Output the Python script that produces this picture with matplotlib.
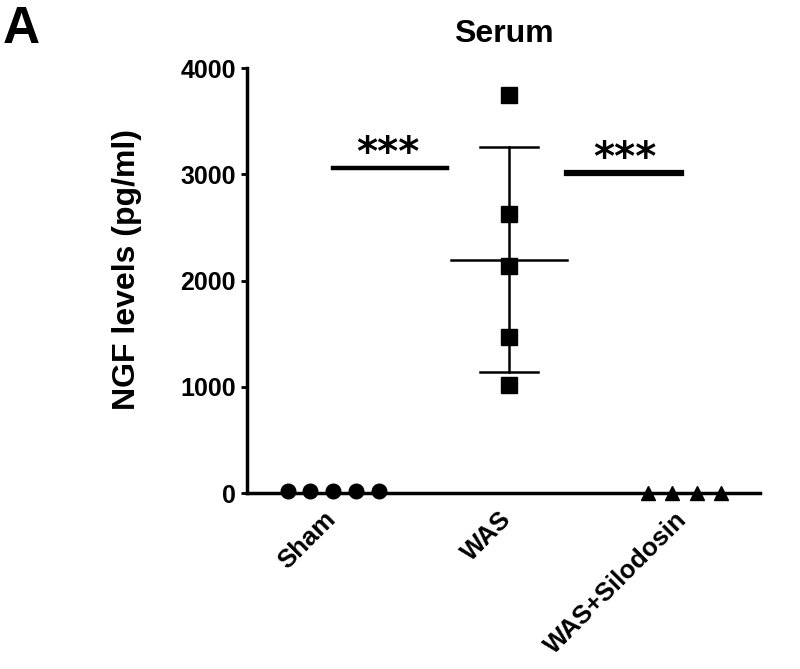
import numpy as np
import matplotlib
matplotlib.use("Agg")
import matplotlib.pyplot as plt
from matplotlib.transforms import ScaledTranslation

plt.rcParams['font.family'] = ['Liberation Sans', 'DejaVu Sans']
plt.rcParams['font.weight'] = 'bold'

categories = ["Sham", "WAS", "WAS+Silodosin"]
sham = [20, 20, 20, 20, 20]
was = [3746, 2626, 2136, 1468, 1016]
was_silodosin = [0, 0, 0, 0]
sig_labels = ["***", "***"]
sig_heights = [3058, 3012]
yticks = [0, 1000, 2000, 3000, 4000]

fig = plt.figure(figsize=(8, 6.69), dpi=100)
ax = fig.add_axes([0.309, 0.263, 0.641, 0.635])

def offsets(n, step=0.13):
    return (np.arange(n) - (n - 1) / 2) * step

ax.plot(1 + offsets(len(sham)), sham, 'o', color='black', ms=10.5, clip_on=False, zorder=3)
ax.plot(2 + np.zeros(len(was)), was, 's', color='black', ms=11, clip_on=False, zorder=3)
ax.plot(3 + offsets(len(was_silodosin), 0.14), was_silodosin, '^', color='black', ms=10, clip_on=False, zorder=3)

m = np.mean(was)
sd = np.std(was, ddof=1)
ax.plot([2 - 0.33, 2 + 0.33], [m, m], color='black', lw=1.8)
ax.plot([2, 2], [m - sd, m + sd], color='black', lw=1.8)
ax.plot([2 - 0.165, 2 + 0.165], [m + sd, m + sd], color='black', lw=1.8)
ax.plot([2 - 0.165, 2 + 0.165], [m - sd, m - sd], color='black', lw=1.8)

# significance bars
ax.plot([1.0, 1.648], [sig_heights[0]] * 2, color='black', lw=3.2)
ax.text(1.313, sig_heights[0] + 130, sig_labels[0], ha='center', va='center',
        fontsize=29, fontweight='bold', family='DejaVu Sans')
ax.plot([2.331, 2.98], [sig_heights[1]] * 2, color='black', lw=4.5)
ax.text(2.662, sig_heights[1] + 130, sig_labels[1], ha='center', va='center',
        fontsize=29, fontweight='bold', family='DejaVu Sans')

ax.set_xlim(0.51, 3.43)
ax.set_ylim(0, 4000)
ax.tick_params(axis='x', length=0, pad=12)
ax.tick_params(axis='y', length=4, width=2, pad=4)
ax.set_yticks(yticks)
ax.set_yticklabels([str(v) for v in yticks], fontsize=18, fontweight='bold')
ax.set_xticks([1, 2, 3])
ax.set_xticklabels(categories, rotation=45, ha='right', rotation_mode='anchor', fontsize=18.5, fontweight='bold')
shift = ScaledTranslation(-7 / 72, 2 / 72, fig.dpi_scale_trans)
for lab in ax.get_xticklabels():
    lab.set_transform(lab.get_transform() + shift)
for s in ['top', 'right']:
    ax.spines[s].set_visible(False)
for s in ['left', 'bottom']:
    ax.spines[s].set_linewidth(2.5)

ax.set_ylabel("NGF levels (pg/ml)", fontsize=23, fontweight='bold')
ax.yaxis.set_label_coords(-0.205, 0.527)
ax.set_title("Serum", fontsize=23, fontweight='bold', pad=19)
fig.text(0.003, 0.935, "A", fontsize=37, fontweight='bold', va='baseline')

fig.savefig("out.png", dpi=100)
